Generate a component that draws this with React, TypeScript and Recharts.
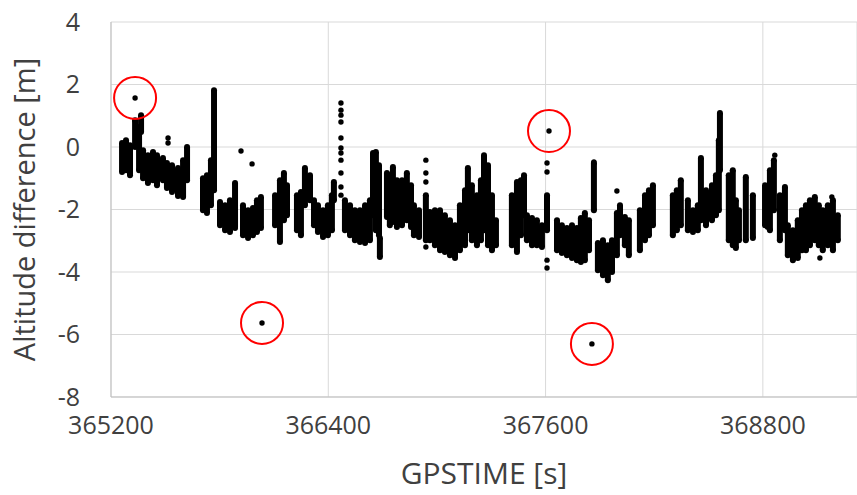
import {
  CartesianGrid,
  ErrorBar,
  ReferenceDot,
  Scatter,
  ScatterChart,
  XAxis,
  YAxis
} from "recharts";

// streaks of dense GPS samples: [gpstime, lowest diff, highest diff]
const streaksA: [number, number, number][] = [
  [365261, -0.8, 0.13], [365283, -0.74, 0.22], [365305, -0.9, 0.06], [365333, 0.0, 0.86],
  [365355, -0.74, 0.64], [365366, 0.48, 1.02], [365377, -1.0, -0.1], [365404, -1.15, -0.26],
  [365432, -1.06, -0.16], [365454, -1.22, -0.26], [365487, -1.06, -0.35], [365509, -1.31, -0.51],
  [365537, -1.44, -0.58], [365570, -1.57, -0.67], [365598, -1.6, -0.42], [365620, -1.06, 0.0]
];

const streaksB: [number, number, number][] = [
  [365708, -2.02, -1.0], [365730, -2.11, -0.9], [365752, -1.86, -0.42], [365769, -1.38, 1.82],
  [365802, -2.5, -1.76], [365830, -2.66, -1.86], [365857, -2.72, -1.7], [365885, -2.59, -1.15],
  [365929, -2.82, -1.86], [365957, -2.91, -2.02], [365984, -2.82, -1.95], [366006, -2.72, -1.7],
  [366028, -2.59, -1.6], [366106, -2.5, -1.54], [366133, -3.04, -1.06], [366155, -2.34, -0.83],
  [366172, -2.18, -1.22]
];

const streaksC: [number, number, number][] = [
  [366227, -2.66, -1.54], [366249, -2.82, -1.44], [366271, -1.86, -0.67], [366299, -1.7, -0.9],
  [366321, -2.5, -1.7], [366343, -2.72, -1.86], [366371, -2.88, -2.02], [366398, -2.82, -1.86],
  [366420, -2.66, -1.54], [366431, -1.7, -1.12], [366492, -2.66, -1.7], [366520, -2.82, -1.86],
  [366547, -2.98, -2.02], [366575, -3.04, -2.02], [366603, -3.07, -1.86], [366630, -2.98, -1.7],
  [366647, -2.18, -0.19], [366663, -2.66, -0.16], [366680, -2.82, -0.58], [366685, -3.52, -2.91]
];

const streaksD: [number, number, number][] = [
  [366724, -2.24, -0.83], [366740, -2.5, -0.9], [366757, -2.4, -0.64], [366779, -2.56, -1.06],
  [366807, -2.5, -1.06], [366834, -2.34, -0.83], [366857, -2.56, -1.22], [366873, -2.82, -1.86],
  [366901, -2.88, -2.02], [366939, -2.98, -1.54], [366961, -2.98, -2.08], [366989, -3.14, -2.02],
  [367017, -3.3, -2.02], [367044, -3.36, -2.18], [367072, -3.46, -2.34], [367100, -3.55, -2.5],
  [367127, -3.3, -1.86], [367155, -3.14, -1.38], [367171, -2.66, -0.67], [367193, -2.98, -1.22],
  [367221, -3.14, -1.54], [367243, -2.98, -1.06], [367260, -2.66, -0.26]
];

const streaksE: [number, number, number][] = [
  [367282, -3.14, -0.58], [367304, -3.3, -1.54], [367326, -3.14, -2.34], [367414, -3.14, -1.54],
  [367442, -3.36, -1.12], [367464, -2.82, -1.06], [367481, -2.18, -0.9], [367497, -2.98, -2.18],
  [367525, -3.14, -2.27], [367552, -3.14, -2.34], [367580, -3.2, -2.5], [367608, -2.66, -1.54],
  [367663, -3.3, -2.34], [367690, -3.39, -2.5], [367718, -3.46, -2.59], [367746, -3.55, -2.5],
  [367773, -3.62, -2.59]
];

const streaksF: [number, number, number][] = [
  [367795, -3.68, -2.27], [367817, -3.62, -2.11], [367840, -3.3, -2.34], [367867, -2.02, -0.51],
  [367889, -3.94, -3.07], [367917, -4.1, -2.98], [367944, -4.26, -3.14], [367967, -4.0, -2.98],
  [367994, -3.46, -2.11], [368011, -2.82, -1.86], [368038, -3.14, -2.24], [368060, -3.46, -2.34],
  [368121, -3.3, -2.02], [368149, -2.98, -1.54], [368171, -2.82, -1.38], [368193, -2.5, -1.22]
];

const streaksG: [number, number, number][] = [
  [368303, -2.82, -1.54], [368325, -2.66, -1.38], [368347, -2.5, -1.06], [368386, -2.66, -1.7],
  [368414, -2.72, -2.02], [368441, -2.66, -1.86], [368458, -2.34, -0.35], [368486, -2.5, -1.38],
  [368519, -2.34, -1.22], [368541, -2.18, -0.9], [368557, -2.02, 0.22], [368563, -0.74, 1.09],
  [368612, -2.98, -0.9], [368634, -3.14, -0.74], [368651, -3.23, -1.7], [368668, -2.98, -2.02],
  [368706, -2.98, -0.96], [368745, -2.91, -1.54]
];

const streaksH: [number, number, number][] = [
  [368812, -2.5, -1.22], [368827, -2.56, -1.79], [368839, -2.66, -0.74], [368861, -2.02, -0.42],
  [368894, -2.98, -1.54], [368922, -2.66, -1.28], [368938, -3.46, -2.5], [368966, -3.62, -2.66],
  [368993, -3.55, -2.34], [369016, -3.3, -2.02], [369038, -3.3, -1.86], [369060, -3.14, -1.7],
  [369087, -2.98, -1.6], [369109, -3.14, -1.86], [369131, -3.3, -2.02], [369159, -3.14, -1.86],
  [369187, -3.3, -1.7], [369214, -2.98, -2.18]
];

// single samples away from the streaks: [gpstime, diff]
const singlePoints: [number, number][] = [
  [365515, 0.29], [365515, 0.13], [365918, -0.13], [365979, -0.54],
  [366470, 1.41], [366470, 1.18], [366470, 1.02], [366470, 0.8], [366470, 0.29], [366470, -0.03],
  [366470, -0.19], [366470, -0.42], [366470, -0.83], [366470, -1.28], [366470, -1.54],
  [366939, -0.42], [366939, -0.83], [366939, -1.12], [366939, -3.2],
  [367608, -0.51], [367608, -0.8], [367608, -3.62], [367608, -3.87],
  [367867, -0.48], [367994, -1.41], [368866, -0.26], [369115, -3.55], [369181, -1.6]
];

// the four circled outliers
const outliers: [number, number][] = [
  [365333, 1.57], [366034, -5.63], [367619, 0.51], [367856, -6.3]
];

const xTicks = [365200, 366400, 367600, 368800];
const yTicks = [-8, -6, -4, -2, 0, 2, 4];

const allStreaks = [
  ...streaksA, ...streaksB, ...streaksC, ...streaksD,
  ...streaksE, ...streaksF, ...streaksG, ...streaksH
];

const streakData = allStreaks.map(([t, lo, hi]) => ({ t, v: lo, err: [0, hi - lo] }));
const streakTops = allStreaks.map(([t, , hi]) => ({ t, v: hi }));
const pointData = [...singlePoints, ...outliers].map(([t, v]) => ({ t, v }));

const textColor = "#404040";
const font = "'Open Sans', 'Noto Sans', sans-serif";

const dot = (props: any) => <circle cx={props.cx} cy={props.cy} r={2.7} fill="#000" />;
const endDot = (props: any) => <circle cx={props.cx} cy={props.cy} r={3} fill="#000" />;

export default function App() {
  return (
    <div style={{ position: "absolute", left: 0, top: 0, background: "#fff", fontFamily: font }}>
      <ScatterChart width={857} height={495} margin={{ top: 22, right: 0, bottom: 0, left: 0 }}>
        <CartesianGrid stroke="#d9d9d9" strokeWidth={1} />
        <XAxis
          type="number"
          dataKey="t"
          domain={[365200, 369320]}
          ticks={xTicks}
          allowDataOverflow
          height={98}
          tickLine={false}
          tickSize={0}
          tickMargin={19}
          axisLine={{ stroke: "#bfbfbf" }}
          tick={{ fontSize: 25, fill: textColor, fontFamily: font }}
          label={{
            value: "GPSTIME [s]",
            position: "insideBottom",
            offset: 11,
            style: { fontSize: 30, fill: textColor, fontFamily: font }
          }}
        />
        <YAxis
          type="number"
          dataKey="v"
          domain={[-8, 4]}
          ticks={yTicks}
          width={111}
          tickLine={false}
          tickSize={0}
          tickMargin={31}
          axisLine={{ stroke: "#bfbfbf" }}
          tick={{ fontSize: 25, fill: textColor, fontFamily: font }}
          label={{
            value: "Altitude difference [m]",
            angle: -90,
            position: "insideLeft",
            offset: 25,
            style: { fontSize: 29, fill: textColor, fontFamily: font, textAnchor: "middle" }
          }}
        />
        <Scatter data={streakData} fill="#000" shape={endDot} isAnimationActive={false}>
          <ErrorBar
            dataKey="err"
            direction="y"
            width={0}
            stroke="#000"
            strokeWidth={6}
            isAnimationActive={false}
          />
        </Scatter>
        <Scatter data={streakTops} fill="#000" shape={endDot} isAnimationActive={false} />
        <Scatter data={pointData} fill="#000" shape={dot} isAnimationActive={false} />
        {outliers.map(([t, v], i) => (
          <ReferenceDot
            key={i}
            x={t}
            y={v}
            r={21}
            fill="none"
            stroke="#ff0000"
            strokeWidth={2}
          />
        ))}
      </ScatterChart>
    </div>
  );
}
